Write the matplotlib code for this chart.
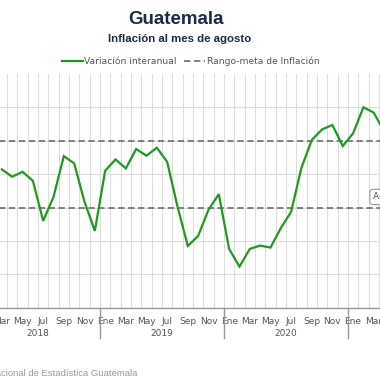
import numpy as np
import matplotlib
matplotlib.use("Agg")
import matplotlib.pyplot as plt
import matplotlib.transforms as mtransforms

# monthly year-on-year inflation (%), Mar 2018 .. Apr 2021
months = ["Ene", "Feb", "Mar", "Abr", "May", "Jun", "Jul", "Ago", "Sep", "Oct", "Nov", "Dic"]
years = [2018, 2019, 2020, 2021]
start_index = 2  # Mar 2018, counted from Jan 2018
inflation = [4.14, 3.92, 4.07, 3.80, 2.60, 3.32, 4.54, 4.32, 3.17, 2.30,
             4.10, 4.44, 4.17, 4.75, 4.55, 4.79, 4.37, 3.03, 1.85, 2.15, 2.93, 3.40,
             1.76, 1.23, 1.76, 1.86, 1.80, 2.38, 2.87, 4.19, 5.02, 5.34, 5.47, 4.84,
             5.22, 6.00, 5.84, 5.28]
target_low, target_high = 3.0, 5.0

GREEN = "#1e9a1e"
NAVY = "#1c2b4a"
GREY_TXT = "#555555"

fig = plt.figure(figsize=(3.8, 3.8), dpi=100)
fig.patch.set_facecolor("white")

# axes run past the picture on both sides (the image is a crop)
px_month = 10.33
x0_px = 100 - 12 * px_month          # Jan 2018 boundary
n_months = 45
ax = fig.add_axes([x0_px / 380, (380 - 307.7) / 380,
                   n_months * px_month / 380, 233.8 / 380])

x = np.arange(len(inflation)) + start_index + 0.5
ax.plot(x, inflation, color=GREEN, lw=1.6, zorder=3, solid_joinstyle="miter")
for v in (target_low, target_high):
    ax.axhline(v, color="#777777", lw=1.3, ls=(0, (3.5, 2)), zorder=2)

ax.set_xlim(0, n_months)
ax.set_ylim(0, 7)
ax.set_yticks(range(0, 7))
ax.set_xticks(np.arange(0, n_months + 1), minor=True)
ax.grid(True, which="minor", axis="x", color="#dddddd", lw=0.8)
ax.grid(True, which="major", axis="y", color="#dddddd", lw=0.8)
ax.tick_params(axis="y", left=False, labelleft=False)

centers = np.arange(0, n_months, 2) + 0.5
labels = [months[int(c) % 12] for c in centers]
ax.set_xticks(centers)
ax.set_xticklabels(labels, fontsize=6.5, color=GREY_TXT)
ax.tick_params(axis="x", which="both", length=0, pad=7)

for s in ("top", "right", "left"):
    ax.spines[s].set_visible(False)
ax.spines["bottom"].set_color("#999999")
ax.spines["bottom"].set_linewidth(1)

trans = mtransforms.blended_transform_factory(ax.transData, ax.transAxes)
for i, yr in enumerate(years):
    b = i * 12
    if b > 0:
        ax.plot([b, b], [0, -0.13], color="#999999", lw=1, transform=trans, clip_on=False)
    ax.text(b + 6, -0.11, str(yr), transform=trans, ha="center", va="center",
            fontsize=6.5, color=GREY_TXT)

fig.text(176 / 380, 1 - 20 / 380, "Guatemala", ha="center", va="center",
         fontsize=13.5, fontweight="bold", color=NAVY, family="Liberation Sans")
fig.text(180 / 380, 1 - 39.5 / 380, "Inflación al mes de agosto", ha="center", va="center",
         fontsize=8.2, fontweight="bold", color=NAVY, family="Liberation Sans")

h1, = ax.plot([], [], color=GREEN, lw=1.6)
h2, = ax.plot([], [], color="#777777", lw=1.3, ls=(0, (3.5, 2)))
fig.legend([h1, h2], ["Variación interanual", "Rango-meta de Inflación"],
           loc="center", bbox_to_anchor=(190.5 / 380, 1 - 61.7 / 380), ncol=2,
           frameon=False, fontsize=6.6, handlelength=2.3, handletextpad=0.2,
           columnspacing=0.75, labelcolor=GREY_TXT)

fig.text(373 / 380, 1 - 197 / 380, "Ago 2021: 3.82%", ha="left", va="center",
         fontsize=6.5, color=GREY_TXT,
         bbox=dict(boxstyle="round,pad=0.35", fc="white", ec="#999999", lw=0.8))

fig.text(137 / 380, 1 - 373 / 380, "Fuente: Instituto Nacional de Estadística Guatemala",
         ha="right", va="center", fontsize=6.8, color="#999999", family="Liberation Sans")

fig.savefig("out.png", dpi=100)
